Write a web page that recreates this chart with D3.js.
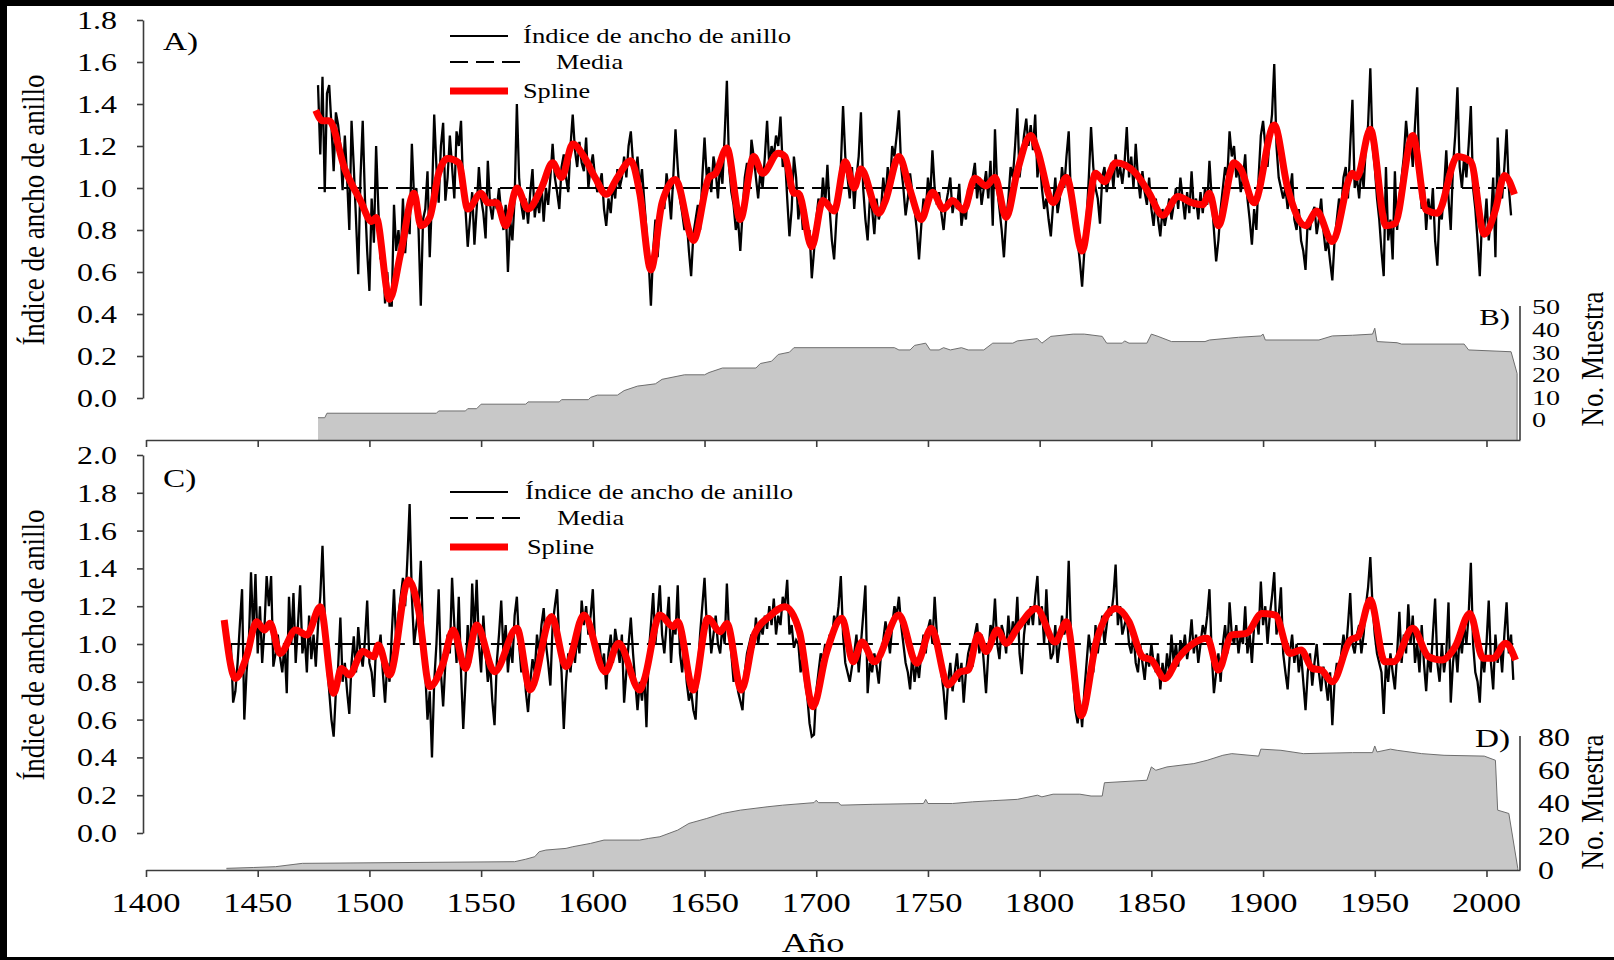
<!DOCTYPE html>
<html><head><meta charset="utf-8">
<script src="https://cdn.jsdelivr.net/npm/d3@7"></script>
<style>html,body{margin:0;padding:0;background:#000;}svg{display:block;}</style>
</head><body>
<script>
// ---------------- DATA ----------------
const ringStartA = 1477;
const ringA = [
1.49,1.16,1.53,
0.98,1.45,1.49,1.30,1.08,1.36,1.30,1.20,0.99,1.25,
1.05,0.80,1.32,1.10,0.85,0.59,1.05,1.32,0.95,0.70,
0.51,0.95,0.74,1.20,0.90,0.66,0.72,0.45,0.60,0.44,
0.44,0.92,0.70,0.80,0.65,0.95,0.69,0.85,0.78,1.21,
0.95,1.00,0.80,0.44,0.85,0.90,1.08,0.67,0.95,1.35,
1.10,0.93,1.20,1.31,0.94,1.05,1.25,1.10,0.95,1.27,
1.20,1.32,0.98,0.90,0.72,0.85,0.98,0.73,0.90,1.10,
0.95,0.88,0.76,1.13,0.92,0.85,0.95,0.90,1.00,0.88,
0.80,0.92,0.60,0.85,0.75,0.95,1.40,1.05,0.92,0.85,
0.95,0.83,0.98,1.09,0.86,0.95,0.88,1.02,0.84,1.00,
0.92,1.05,1.21,1.05,0.98,0.90,1.10,1.16,1.05,0.98,
1.20,1.35,1.18,1.10,1.22,1.12,1.08,1.24,1.00,1.10,
1.16,1.05,0.98,1.02,1.07,0.90,0.82,0.95,0.88,1.02,
0.95,1.09,1.00,1.05,1.15,1.05,1.20,1.27,1.12,1.05,
1.15,1.00,1.09,0.94,0.80,0.65,0.44,0.70,0.85,0.67,
0.85,0.93,0.90,1.07,0.98,0.85,1.05,1.28,1.10,0.95,
0.88,0.80,0.85,0.70,0.58,0.78,0.85,0.92,0.80,1.05,
1.24,1.05,1.10,0.98,1.15,1.08,0.95,1.12,1.02,1.25,
1.51,1.10,0.98,0.92,0.80,0.85,0.70,0.88,1.05,1.12,
1.00,1.23,1.15,1.05,0.95,1.08,1.00,1.15,1.32,1.10,
1.20,1.15,1.25,1.20,1.34,1.10,1.15,0.95,0.77,0.90,
1.15,1.05,0.85,0.95,0.80,0.90,0.75,0.80,0.57,0.70,
0.85,0.95,0.88,1.05,0.92,1.11,0.90,0.75,0.66,0.85,
1.00,1.10,1.39,1.15,1.05,0.95,1.10,0.90,1.05,1.15,
1.36,1.00,0.85,0.75,0.95,0.90,0.78,0.95,0.85,0.90,
1.05,0.95,1.10,1.00,1.20,1.15,1.25,1.37,1.10,1.00,
0.87,0.95,1.07,0.98,0.90,0.80,0.66,0.82,0.95,0.88,
1.05,0.95,1.18,1.00,0.92,0.98,0.88,0.80,0.92,0.98,
1.05,0.88,0.95,0.90,1.02,0.82,0.90,0.85,1.00,0.95,
1.05,1.12,0.95,1.05,0.92,1.00,1.08,0.95,1.13,0.82,
1.28,1.00,0.90,0.80,0.67,0.85,0.95,1.10,1.05,1.20,
1.38,1.05,1.15,1.25,1.33,1.20,1.30,1.18,1.35,1.05,
1.15,1.00,0.90,0.95,0.85,0.77,0.92,1.05,0.88,0.95,
1.10,1.00,1.15,1.27,0.95,0.85,0.90,0.75,0.65,0.53,
0.70,0.85,1.05,1.29,1.10,1.00,0.95,0.83,1.05,1.10,
0.98,1.05,1.12,1.00,1.16,1.05,1.10,1.02,1.12,1.29,
1.05,1.15,1.00,1.21,1.05,0.95,1.08,0.98,0.92,1.05,
0.90,0.82,0.95,0.85,0.77,0.90,0.82,0.88,0.95,0.85,
0.92,1.00,0.90,1.05,0.95,0.85,0.98,0.88,1.08,0.90,
0.95,0.85,0.98,0.88,1.00,0.92,1.13,0.95,0.80,0.65,
0.75,0.90,1.00,1.10,1.05,1.27,1.15,1.20,1.05,1.10,
0.98,1.05,1.16,0.95,0.85,0.73,0.90,0.80,1.05,1.25,
1.32,1.20,1.10,1.25,1.35,1.59,1.20,1.05,1.00,0.95,
1.00,0.90,0.98,1.07,0.85,0.80,0.90,0.75,0.70,0.61,
0.85,0.80,0.88,0.91,0.78,0.85,0.95,0.80,0.70,0.75,
0.65,0.56,0.75,0.85,0.95,0.90,1.05,1.10,0.95,1.20,
1.42,1.00,1.05,0.95,1.10,1.00,1.20,1.30,1.57,1.20,
1.10,0.95,0.85,0.70,0.58,1.10,0.75,0.85,0.66,1.08,
0.80,0.95,1.05,1.15,1.32,1.20,1.25,1.10,1.30,1.48,
1.05,0.90,1.00,0.80,0.95,0.85,1.00,0.75,0.63,0.90,
0.85,1.00,1.18,0.95,0.80,1.10,1.25,1.48,1.10,1.00,
1.15,1.05,1.20,1.39,1.00,0.90,0.75,0.58,0.85,0.80,
0.95,0.75,0.85,1.05,0.67,1.24,1.00,0.95,1.10,1.28,
1.00,0.87
];

const splineA = [
[1476,1.37],[1479,1.32],[1482,1.32],[1489,1.09],[1496,0.94],[1501,0.84],[1503,0.86],[1509,0.47],[1514,0.69],
[1520,0.975],[1523,0.82],[1527,0.86],[1531,1.07],[1535,1.14],[1540,1.12],[1544,0.90],[1550,0.975],[1553,0.93],
[1557,0.93],[1561,0.82],[1566,1.0],[1571,0.9],[1577,1.0],[1582,1.12],[1586,1.05],[1591,1.21],[1596,1.15],
[1601,1.05],[1606,0.97],[1611,1.05],[1617,1.13],[1621,0.975],[1626,0.61],[1631,0.93],[1637,1.04],[1645,0.75],
[1652,1.05],[1655,1.07],[1660,1.19],[1666,0.85],[1672,1.15],[1676,1.07],[1683,1.165],[1686,1.15],[1690,0.975],
[1692,0.975],[1698,0.72],[1703,0.94],[1708,0.89],[1713,1.125],[1717,1.0],[1720,1.09],[1728,0.88],[1731,0.94],
[1737,1.15],[1742,0.99],[1747,0.85],[1752,0.98],[1757,0.90],[1761,0.94],[1766,0.895],[1771,1.046],[1776,1.01],
[1780,1.05],[1785,0.86],[1790,1.08],[1796,1.25],[1799,1.18],[1806,0.93],[1812,1.05],[1819,0.70],[1825,1.07],
[1829,1.03],[1834,1.12],[1843,1.07],[1849,0.975],[1855,0.87],[1862,0.96],[1868,0.93],[1873,0.92],[1876,0.975],
[1880,0.82],[1887,1.12],[1890,1.09],[1896,0.93],[1905,1.30],[1911,1.0],[1919,0.82],[1924,0.89],[1931,0.745],
[1940,1.07],[1942,1.05],[1948,1.28],[1955,0.82],[1959,0.83],[1967,1.25],[1973,0.895],[1978,0.88],[1987,1.15],
[1993,1.125],[1999,0.78],[2004,0.895],[2008,1.06],[2012.5,0.97]
];

const depthB = [
[1477,1],[1480,1],[1481,3],[1530,3],[1531,4],[1543,4],[1544,5],[1548,5],[1550,7],[1570,7],[1571,8],[1585,8],
[1586,9],[1598,9],[1599,10],[1602,11],[1611,11],[1614,13],[1620,15],[1628,16],[1631,18],[1641,20],[1650,20],
[1652,21],[1658,23],[1673,23],[1675,25],[1680,26],[1683,29],[1688,30],[1690,32],[1735,32],[1737,31],[1742,31],
[1744,33],[1749,34],[1751,31],[1755,31],[1757,32],[1760,31],[1765,32],[1768,31],[1775,31],[1779,34],[1788,34],
[1790,35],[1799,36],[1801,34],[1805,37],[1815,38],[1820,38],[1828,37],[1830,34],[1837,34],[1838,35],[1840,34],
[1848,34],[1850,38],[1853,37],[1859,34.7],[1874,34.7],[1876,35.4],[1889,36.6],[1899,37.2],[1900,38],[1901,35.4],
[1925,35.4],[1931,37.2],[1940,37.5],[1949,38],[1950,40.6],[1951,34.7],[1960,34.2],[1962,33.6],[1990,33.6],
[1992,31],[2011,30.2],[2013.7,20.6]
];

const ringStartC = 1438;
const ringC = [
1.00,0.69,
0.75,0.90,1.10,1.29,0.60,0.85,1.00,1.38,1.05,1.37,
0.95,1.20,0.90,1.08,1.36,1.20,1.36,0.88,0.95,1.05,
0.93,0.85,1.00,0.74,1.25,1.00,1.27,0.90,1.10,1.31,
0.95,1.05,0.85,1.15,0.92,1.05,0.88,1.10,1.25,1.52,
1.15,0.90,0.75,0.60,0.51,0.75,0.88,1.14,0.80,0.90,
0.75,0.63,0.90,1.04,0.85,1.09,0.95,0.88,1.02,1.23,
0.90,0.85,0.72,1.00,0.95,1.05,0.85,0.69,0.90,0.80,
1.05,1.29,1.00,1.15,1.25,1.35,1.20,1.45,1.74,1.25,
1.00,1.10,1.20,1.44,1.05,0.85,0.60,0.75,0.40,0.80,
1.00,1.29,0.85,0.67,0.90,1.05,0.95,1.35,1.10,0.90,
1.25,0.85,0.55,0.80,1.10,0.90,1.32,1.05,1.34,1.00,
0.85,1.15,0.95,0.80,0.90,0.70,0.57,0.90,1.05,1.23,
0.95,1.10,0.85,1.00,0.90,1.15,1.25,1.00,0.85,0.95,
0.75,0.64,0.80,0.92,0.85,1.05,0.95,1.10,1.19,1.00,
0.90,0.78,1.10,1.20,1.29,1.00,0.85,0.55,0.80,0.95,
0.85,1.00,0.90,1.05,0.95,1.23,1.10,1.20,1.05,1.15,
1.29,1.00,0.90,1.00,0.88,0.95,0.76,0.95,1.05,0.90,
1.08,1.00,0.90,1.05,0.69,0.85,1.00,1.14,0.95,0.80,
0.65,0.80,0.70,0.85,0.56,0.95,1.10,1.27,1.00,1.15,
1.31,1.05,0.95,1.10,1.25,0.90,1.10,1.05,1.31,0.95,
0.85,1.00,0.80,0.70,0.75,0.65,0.60,0.85,1.05,1.20,
1.35,1.10,1.15,0.95,1.05,1.15,1.00,0.95,1.10,1.00,
1.32,1.05,0.95,0.80,0.90,0.75,0.70,0.65,0.85,0.95,
1.00,1.05,0.98,1.14,1.00,1.10,1.05,1.15,1.08,1.20,
1.10,1.24,1.05,1.15,1.10,1.25,1.20,1.34,1.05,1.10,
0.98,1.02,1.00,0.85,0.95,0.80,0.72,0.58,0.51,0.52,
0.75,0.85,0.95,0.92,1.00,0.95,1.05,1.02,1.15,1.10,
1.20,1.36,1.05,0.90,0.85,0.80,0.88,0.95,1.05,0.85,
1.00,1.15,1.31,0.74,0.90,0.85,0.95,0.88,0.79,0.95,
1.02,1.12,1.05,0.95,1.10,1.20,1.15,1.25,1.10,1.00,
0.90,0.85,0.76,0.95,0.80,0.90,0.82,0.95,1.05,0.95,
1.08,1.13,1.00,1.25,1.05,0.95,0.85,0.75,0.60,0.80,
0.90,0.75,0.85,0.95,0.80,0.90,0.69,0.85,0.95,1.00,
0.88,1.05,1.11,0.95,1.05,0.90,0.74,0.95,1.10,1.05,
1.24,1.00,0.92,1.10,1.05,0.95,1.15,1.00,1.12,1.05,
1.25,0.95,0.84,1.05,1.15,1.10,1.20,1.10,1.25,1.36,
1.10,1.20,1.00,1.29,1.05,0.92,0.95,1.10,0.90,1.00,
1.15,1.05,1.10,1.44,1.05,0.80,0.65,0.58,0.70,0.56,
0.75,0.90,1.05,0.95,0.85,1.10,0.95,1.05,1.15,1.00,
1.10,1.20,1.15,1.25,1.42,1.10,1.20,1.05,1.10,1.15,
1.00,0.95,1.05,0.90,0.85,1.00,0.90,0.81,0.95,0.88,
1.00,0.90,0.85,0.95,0.76,0.90,0.80,0.95,0.85,1.05,
0.90,1.00,0.88,1.02,0.95,1.05,0.92,1.00,1.13,0.95,
1.05,0.90,1.00,1.10,1.05,1.15,1.29,0.95,0.74,0.85,
0.95,0.80,1.00,1.10,0.95,1.22,1.05,1.00,1.10,0.95,
1.05,1.00,1.20,0.95,1.05,0.90,1.10,1.15,1.05,1.33,
1.10,1.20,1.00,1.15,1.25,1.38,1.05,1.15,1.30,0.95,
0.85,0.76,0.95,1.05,0.90,1.00,0.85,0.95,0.80,0.65,
0.85,0.95,0.78,0.90,1.00,0.85,0.75,0.88,0.80,0.70,
0.85,0.57,0.80,0.90,0.85,0.95,1.05,0.95,1.10,1.27,
1.00,0.95,1.05,1.10,0.95,1.05,1.20,1.30,1.46,1.20,
1.05,0.95,0.90,0.85,0.63,0.90,0.80,0.95,0.85,0.76,
0.95,1.17,0.90,1.05,0.95,1.21,1.00,1.15,0.90,1.00,
0.85,1.10,0.90,0.75,0.95,0.85,1.05,1.24,0.90,0.80,
1.00,0.85,0.95,1.22,0.69,0.90,1.00,0.85,1.05,0.95,
1.10,1.00,1.15,1.43,1.00,0.85,0.80,0.69,0.95,0.85,
1.00,1.23,0.90,0.76,1.05,0.90,1.00,0.85,1.05,1.22,
0.95,1.05,0.81
];

const splineC = [
[1435,1.127],[1440,0.818],[1445,0.933],[1449.5,1.118],[1453,1.074],[1455.5,1.11],[1460,0.95],[1467,1.074],
[1472,1.048],[1478,1.197],[1484,0.739],[1487.5,0.871],[1491,0.836],[1497,0.96],[1502,0.933],[1504,0.995],
[1509,0.836],[1517.5,1.339],[1522,1.18],[1527,0.774],[1533,0.898],[1537.5,1.074],[1543,0.871],[1548,1.10],
[1556,0.853],[1566,1.083],[1572,0.757],[1581.5,1.145],[1588,0.88],[1596,1.153],[1605.5,0.853],[1611.5,1.004],
[1621,0.757],[1623,0.81],[1630,1.153],[1636,1.092],[1638,1.118],[1645,0.757],[1651.5,1.136],[1657,1.065],
[1660,1.109],[1666.5,0.757],[1672.5,1.056],[1679,1.145],[1686,1.197],[1692.5,1.065],[1698.5,0.668],[1704.5,0.95],
[1711.5,1.136],[1716.5,0.906],[1720.5,1.01],[1726,0.906],[1737,1.153],[1745,0.898],[1751.5,1.083],[1759,0.783],
[1764.5,0.853],[1768,0.862],[1772.5,1.048],[1776,0.96],[1781,1.074],[1785,1.004],[1790,1.083],[1798.5,1.188],
[1807,1.01],[1812,1.118],[1818.5,0.62],[1825.5,1.02],[1834,1.188],[1840,1.118],[1846,0.933],[1850,0.915],
[1856,0.818],[1862,0.924],[1875,1.03],[1880,0.862],[1886,1.048],[1892.5,1.056],[1899.5,1.162],[1905.5,1.153],
[1912,0.95],[1917,0.968],[1922,0.871],[1926,0.862],[1931,0.80],[1939,1.02],[1942.5,1.039],[1948,1.233],
[1954.5,0.906],[1958.5,0.906],[1967,1.083],[1974,0.933],[1980,0.915],[1986,0.986],[1992.5,1.162],[1998.5,0.924],
[2003,0.924],[2008.5,1.004],[2013,0.915]
];

const depthD = [
[1436,1],[1448,1.5],[1458,2],[1464,3],[1470,4],[1565,5],[1570,6.5],[1574,8],[1576,11],[1579,12],[1588,13],
[1591,14],[1599,16],[1605,18],[1621,18],[1625,19],[1630,20],[1638,24],[1643,28],[1651,31],[1658,34],[1666,36],
[1678,38],[1685,39],[1699,40.5],[1700,42],[1701,40.5],[1710,40.5],[1711,39],[1725,39.5],[1748,40],[1749,42.5],
[1750,40],[1761,40],[1770,41],[1779,41.7],[1790,42.5],[1799,45],[1801,44],[1806,45.6],[1818,45.6],[1823,44.5],
[1828,44.5],[1829,52.5],[1848,54],[1850,62],[1852,60],[1857,62],[1869,64],[1875,66],[1882,69],[1886,70],
[1898,68.5],[1899,72.7],[1908,72],[1918,70],[1940,70.6],[1949,70.6],[1950,74.6],[1951,71],[1957,72.7],[1960,72],
[1971,70],[1981,69],[1999,68.5],[2004,66],[2005,36],[2010,34],[2014,1]
];

const meanValue = 1.0;
const xTicks = [1400,1450,1500,1550,1600,1650,1700,1750,1800,1850,1900,1950,2000];
const yTicksA = [0,0.2,0.4,0.6,0.8,1.0,1.2,1.4,1.6,1.8];
const yTicksC = [0,0.2,0.4,0.6,0.8,1.0,1.2,1.4,1.6,1.8,2.0];
const depthTicksB = [0,10,20,30,40,50];
const depthTicksD = [0,20,40,60,80];
const legendLabels = ["Índice de ancho de anillo","Media","Spline"];
const yTitle = "Índice de ancho de anillo";
const depthTitle = "No. Muestra";
const xTitle = "Año";

// ---------------- DRAW ----------------
const W = 1614, H = 960;
const FONT = "'Liberation Serif','Times New Roman',serif";
const SX = 1.28;
const svg = d3.select("body").append("svg").attr("width", W).attr("height", H);
svg.append("rect").attr("width", W).attr("height", H).attr("fill", "#000");
svg.append("rect").attr("x", 7).attr("y", 6).attr("width", W - 7).attr("height", 951).attr("fill", "#fff");

const x = d3.scaleLinear().domain([1400, 2015]).range([146, 1520]);
const yA = d3.scaleLinear().domain([0, 1.8]).range([398, 20]);
const yC = d3.scaleLinear().domain([0, 2.0]).range([833, 455]);
const yB = d3.scaleLinear().domain([0, 50]).range([420, 307]);
const yD = d3.scaleLinear().domain([0, 80]).range([870, 737]);
const baseAB = 440, baseCD = 870;
const AXC = "#3c3c3c";

function txt(g, px, py, s, size, anchor, sx, rot) {
  let tr = `translate(${px},${py}) scale(${sx},1)` + (rot ? ` rotate(${rot})` : "");
  return g.append("text").attr("transform", tr).attr("text-anchor", anchor)
    .attr("font-family", FONT).attr("font-size", size).attr("fill", "#000").text(s);
}

function panel(opt) {
  const g = svg.append("g");
  // depth area
  const area = d3.area().x(d => x(d[0])).y0(opt.base).y1(d => opt.yd(d[1])).curve(d3.curveLinear);
  g.append("path").datum(opt.depth).attr("d", area).attr("fill", "#c8c8c8");
  g.append("path").datum(opt.depth).attr("fill", "none").attr("stroke", "#6e6e6e").attr("stroke-width", 1)
    .attr("d", d3.line().x(d => x(d[0])).y(d => opt.yd(d[1])));
  const last = opt.depth[opt.depth.length - 1];
  g.append("line").attr("x1", x(last[0])).attr("x2", x(last[0])).attr("y1", opt.yd(last[1])).attr("y2", opt.base)
    .attr("stroke", "#6e6e6e").attr("stroke-width", 1);

  // x axis
  const xa = g.append("g").attr("transform", `translate(0,${opt.base})`)
    .call(d3.axisBottom(x).tickValues(xTicks).tickSize(7).tickSizeOuter(0).tickFormat(""));
  xa.selectAll("path,line").attr("stroke", AXC).attr("stroke-width", 1.6);
  if (opt.xLabels) {
    xTicks.forEach(t => txt(g, x(t), opt.base + 42, String(t), 27, "middle", SX));
  }
  // left y axis
  const ya = g.append("g").attr("transform", `translate(143,0)`)
    .call(d3.axisLeft(opt.y).tickValues(opt.yTicks).tickSize(6).tickSizeOuter(0).tickFormat(""));
  ya.selectAll("path,line").attr("stroke", AXC).attr("stroke-width", 1.6);
  opt.yTicks.forEach(t => txt(g, 117, opt.y(t) + 9, t.toFixed(1), 25, "end", SX));
  // right depth axis
  g.append("line").attr("x1", 1520).attr("x2", 1520).attr("y1", opt.yd(opt.dTicks[opt.dTicks.length - 1]) - 1)
    .attr("y2", opt.base).attr("stroke", AXC).attr("stroke-width", 1.6);
  opt.dTicks.forEach(t => txt(g, opt.dLabelX, opt.yd(t) + opt.dFont * 0.34, String(t), opt.dFont, "start", SX));
  txt(g, 1603, opt.dTitleY, depthTitle, 27, "middle", 1.15, -90);
  txt(g, 1510, opt.dPanelY, opt.dPanel, opt.dPanelFont, "end", SX);

  // titles
  txt(g, 44, opt.titleY, yTitle, 27, "middle", 1.15, -90);
  txt(g, 163, opt.panelY, opt.panel, 26, "start", SX);

  // mean line
  const ring = opt.ring.map((v, i) => [opt.start + i, v]);
  g.append("line").attr("x1", x(opt.start)).attr("x2", x(opt.start + opt.ring.length - 1))
    .attr("y1", opt.y(meanValue)).attr("y2", opt.y(meanValue))
    .attr("stroke", "#000").attr("stroke-width", 2).attr("stroke-dasharray", "18,8");
  // ring index
  g.append("path").datum(ring).attr("fill", "none").attr("stroke", "#000").attr("stroke-width", 2.3)
    .attr("stroke-linejoin", "miter").attr("stroke-miterlimit", 3)
    .attr("d", d3.line().x(d => x(d[0])).y(d => opt.y(d[1])));
  // spline
  g.append("path").datum(opt.spline).attr("fill", "none").attr("stroke", "#ff0000").attr("stroke-width", 7)
    .attr("stroke-linejoin", "round")
    .attr("d", d3.line().x(d => x(d[0])).y(d => opt.y(d[1])).curve(d3.curveMonotoneX));

  // legend
  const ly = opt.legendY;
  g.append("line").attr("x1", 450).attr("x2", 508).attr("y1", ly).attr("y2", ly).attr("stroke", "#000").attr("stroke-width", 2);
  g.append("line").attr("x1", 450).attr("x2", 526).attr("y1", ly + 26).attr("y2", ly + 26).attr("stroke", "#000")
    .attr("stroke-width", 2).attr("stroke-dasharray", "18,8");
  g.append("line").attr("x1", 450).attr("x2", 508).attr("y1", ly + 55).attr("y2", ly + 55).attr("stroke", "#ff0000").attr("stroke-width", 7);
  txt(g, opt.legX[0], ly + 7, legendLabels[0], 21, "start", 1.27);
  txt(g, opt.legX[1], ly + 33, legendLabels[1], 21, "start", 1.25);
  txt(g, opt.legX[2], ly + 62, legendLabels[2], 21, "start", 1.25);
}

panel({ y: yA, yTicks: yTicksA, yd: yB, dTicks: depthTicksB, depth: depthB, base: baseAB,
  ring: ringA, start: ringStartA, spline: splineA, xLabels: false,
  dLabelX: 1532, dFont: 22, dTitleY: 359, dPanel: "B)", dPanelY: 325, dPanelFont: 24,
  titleY: 210, panel: "A)", panelY: 50, legendY: 36, legX: [523, 556, 523] });

panel({ y: yC, yTicks: yTicksC, yd: yD, dTicks: depthTicksD, depth: depthD, base: baseCD,
  ring: ringC, start: ringStartC, spline: splineC, xLabels: true,
  dLabelX: 1538, dFont: 25, dTitleY: 802, dPanel: "D)", dPanelY: 747, dPanelFont: 26,
  titleY: 645, panel: "C)", panelY: 487, legendY: 492, legX: [525, 557, 527] });

txt(svg, 813, 952, xTitle, 28, "middle", 1.3);
</script>
</body></html>
